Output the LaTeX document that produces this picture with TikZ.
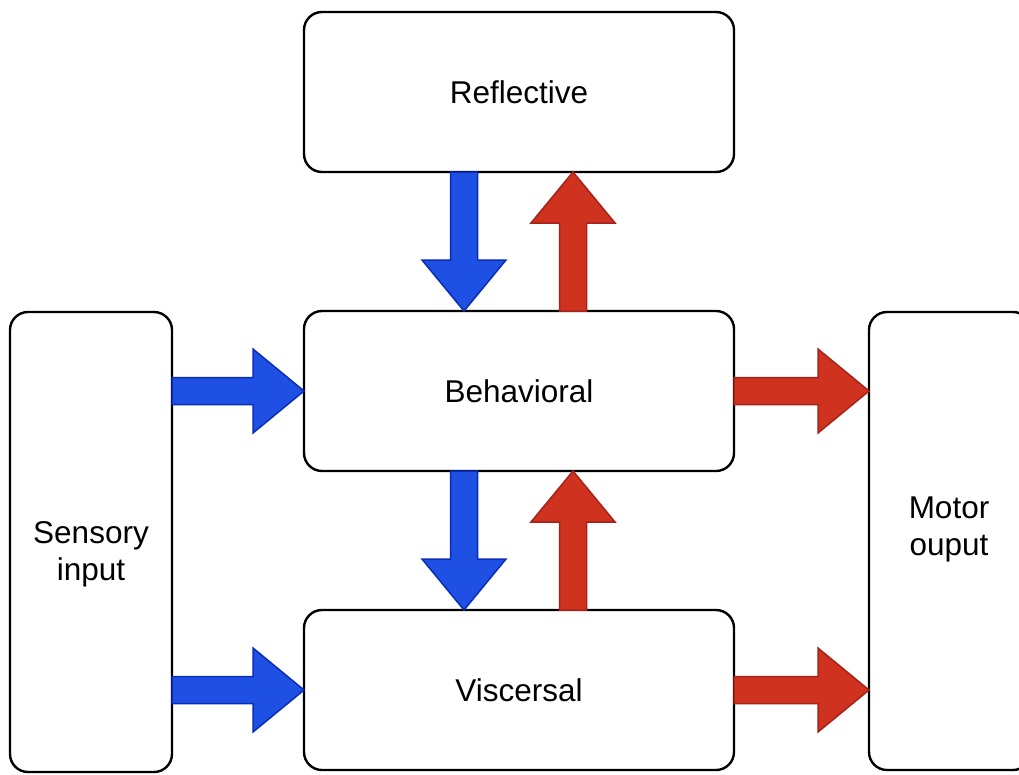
\documentclass[tikz,border=0pt]{standalone}
\usepackage{fontspec}
\setmainfont{Liberation Sans}
\usetikzlibrary{calc}

\definecolor{downfill}{RGB}{30,80,228}
\definecolor{downline}{RGB}{10,45,185}
\definecolor{upfill}{RGB}{208,50,32}
\definecolor{upline}{RGB}{165,35,25}

% Block arrow from #2 to #3 (tip at #3), drawn with style #1
\newcommand\flowarrow[3]{%
  \path (#2) coordinate (fa-s) (#3) coordinate (fa-t);
  \path ($(fa-t)!51pt!(fa-s)$) coordinate (fa-b);
  \draw[#1] ($(fa-s)!13.5pt!90:(fa-t)$) -- ($(fa-b)!13.5pt!90:(fa-t)$)
    -- ($(fa-b)!42pt!90:(fa-t)$) -- (fa-t) -- ($(fa-b)!42pt!-90:(fa-t)$)
    -- ($(fa-b)!13.5pt!-90:(fa-t)$) -- ($(fa-s)!13.5pt!-90:(fa-t)$) -- cycle;
}

\begin{document}
\begin{tikzpicture}[x=1pt, y=-1pt,
  box/.style={draw, line width=2.4pt, rounded corners=18pt, fill=white,
    outer sep=0pt, inner sep=0pt,
    font=\fontsize{31.5}{37}\selectfont, align=center},
  wide/.style={box, minimum width=430pt, minimum height=160pt},
  tall/.style={box, minimum width=162pt},
  caption/.style={font=\fontsize{31.5}{37}\selectfont, align=center, inner sep=0pt},
  bluearrow/.style={fill=downfill, draw=downline, line width=1.5pt, line join=miter},
  redarrow/.style={fill=upfill, draw=upline, line width=1.5pt, line join=miter}]

\useasboundingbox (0,0) rectangle (1019,774);
\clip (0,0) rectangle (1019,774);

% the three levels
\node[wide] (refl)  at (519,92)  {Reflective};
\node[wide] (behav) at (519,391) {Behavioral};
\node[wide] (visc)  at (519,690) {Viscersal};

% input and output columns
\node[tall, minimum height=460pt] (sens)  at (91,542)  {};
\node[tall, minimum height=458pt] (motor) at (950,541) {};
\node[caption] (senstext)  at (91,554)  {Sensory\\input};
\node[caption] (motortext) at (949,529) {Motor\\ouput};

% sensory input feeding the lower two levels
\flowarrow{bluearrow}{sens.east |- behav.west}{behav.west}
\flowarrow{bluearrow}{sens.east |- visc.west}{visc.west}

% outputs to the motor column
\flowarrow{redarrow}{behav.east}{motor.west |- behav.east}
\flowarrow{redarrow}{visc.east}{motor.west |- visc.east}

% downward control between levels
\flowarrow{bluearrow}{$(refl.south)+(-55,0)$}{$(behav.north)+(-55,0)$}
\flowarrow{bluearrow}{$(behav.south)+(-55,0)$}{$(visc.north)+(-55,0)$}

% upward signals between levels
\flowarrow{redarrow}{$(behav.north)+(54,0)$}{$(refl.south)+(54,0)$}
\flowarrow{redarrow}{$(visc.north)+(54,0)$}{$(behav.south)+(54,0)$}
\end{tikzpicture}
\end{document}
